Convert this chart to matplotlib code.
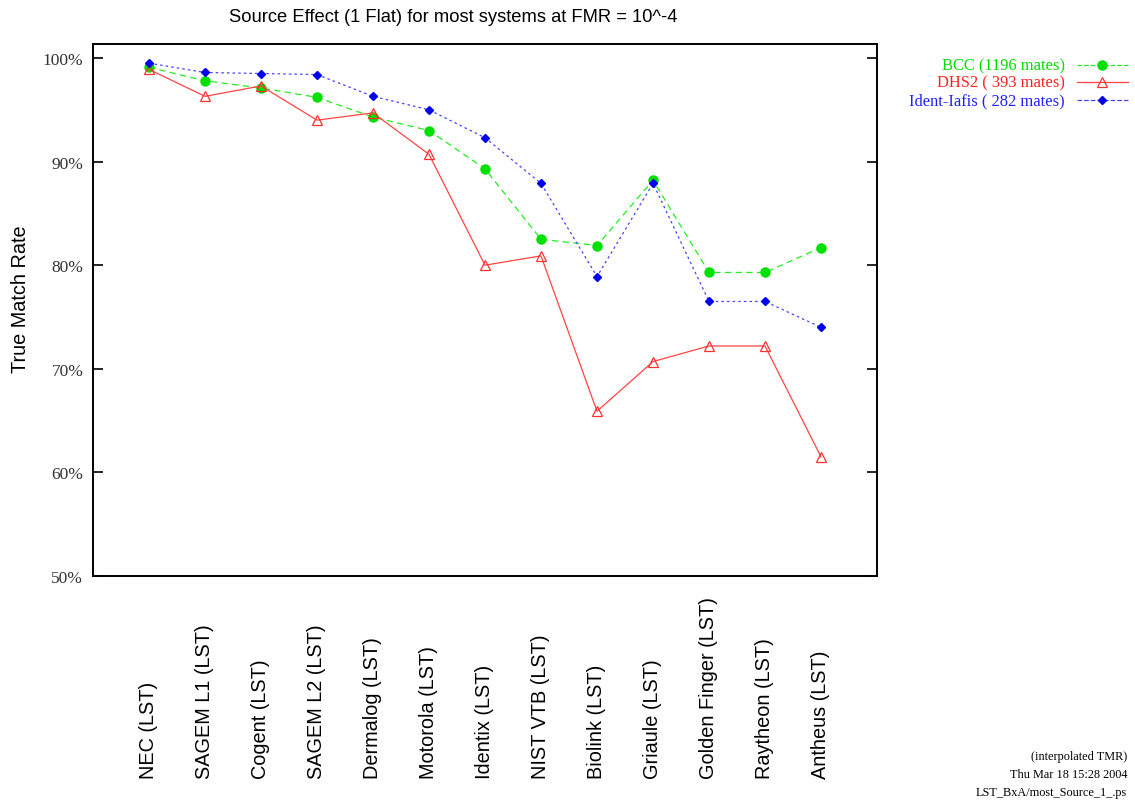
#!/usr/bin/env python3
"""
Source Effect (1 Flat) chart - TMR per system at FMR = 10^-4
"""

import matplotlib
matplotlib.use('agg')
import matplotlib.pyplot as plt
import matplotlib.transforms as mtransforms

# system names (x axis)
systems = ['NEC (LST)', 'SAGEM L1 (LST)', 'Cogent (LST)', 'SAGEM L2 (LST)',
           'Dermalog (LST)', 'Motorola (LST)', 'Identix (LST)', 'NIST VTB (LST)',
           'Biolink (LST)', 'Griaule (LST)', 'Golden Finger (LST)',
           'Raytheon (LST)', 'Antheus (LST)']

# true match rates in percent
bcc_tmr = [99.1, 97.8, 97.1, 96.2, 94.3, 93.0, 89.3, 82.5, 81.9, 88.2, 79.3, 79.3, 81.7]
dhs2_tmr = [98.9, 96.3, 97.3, 94.0, 94.7, 90.7, 80.0, 80.9, 65.9, 70.7, 72.2, 72.2, 61.5]
iafis_tmr = [99.5, 98.6, 98.5, 98.4, 96.3, 95.0, 92.3, 87.9, 78.9, 87.9, 76.5, 76.5, 74.0]

series_labels = ['BCC (1196 mates)', 'DHS2 ( 393 mates)', 'Ident-Iafis ( 282 mates)']

y_ticks = [50, 60, 70, 80, 90, 100]
y_tick_labels = ['50%', '60%', '70%', '80%', '90%', '100%']

footer_lines = ['(interpolated TMR)', 'Thu Mar 18 15:28 2004', 'LST_BxA/most_Source_1_.ps']

SANS = 'Liberation Sans'
SERIF = 'Liberation Serif'


def plot_source_effect():
    fig = plt.figure(figsize=(11.35, 8.03), dpi=100)
    ax = fig.add_axes([93 / 1135, 1 - 577 / 803, 784 / 1135, 532 / 803])

    x = list(range(1, len(systems) + 1))

    # 三条曲线
    l1, = ax.plot(x, bcc_tmr, color='#22ee22', linestyle=(0, (5, 3.5)), linewidth=0.9,
                  marker='o', markersize=6.5, markerfacecolor='#00e000',
                  markeredgecolor='#00e000')
    l2, = ax.plot(x, dhs2_tmr, color='#ff4444', linestyle='-', linewidth=0.9,
                  marker='^', markersize=7, markerfacecolor='none',
                  markeredgecolor='#ff3030', markeredgewidth=0.9)
    l3, = ax.plot(x, iafis_tmr, color='#4444ff', linestyle=(0, (2, 2.5)), linewidth=0.9,
                  marker='D', markersize=4.5, markerfacecolor='#0000ee',
                  markeredgecolor='#0000ee')

    ax.set_xlim(0, 14)
    ax.set_ylim(50, 101.35)

    ax.set_yticks(y_ticks)
    ax.set_yticklabels(y_tick_labels, family=SERIF, fontsize=12.5, color='#333333')
    ax.tick_params(axis='y', direction='in', length=7, width=1.2, left=True, right=True, pad=7)
    ax.set_xticks([])

    for s in ax.spines.values():
        s.set_linewidth(1.4)

    # x 轴标签（竖排）
    trans = mtransforms.blended_transform_factory(ax.transData, fig.transFigure)
    for xi, name in zip(x, systems):
        ax.text(xi, 1 - 779 / 803, name, rotation=90, ha='center', va='bottom',
                fontsize=14.3, family=SANS, transform=trans, clip_on=False)

    fig.text(20 / 1135, 1 - 299 / 803, 'True Match Rate', rotation=90, ha='center',
             va='center', fontsize=14.3, family=SANS)
    fig.text(453 / 1135, 1 - 18 / 803, 'Source Effect (1 Flat) for most systems at FMR = 10^-4',
             ha='center', va='center', fontsize=13.2, family=SANS)

    # 图例
    leg_colors = ['#00dd00', '#ff2020', '#2020ff']
    leg_y = [66, 83, 101]
    for lab, col, yy, line in zip(series_labels, leg_colors, leg_y, [l1, l2, l3]):
        fy = 1 - yy / 803
        fig.text(1065 / 1135, fy, lab, ha='right', va='center', color=col,
                 fontsize=11.9, family=SERIF)
        fig.add_artist(plt.Line2D([1077 / 1135, 1128 / 1135], [fy, fy],
                                  color=line.get_color(), linestyle=line.get_linestyle(),
                                  linewidth=0.9, transform=fig.transFigure))
        fig.add_artist(plt.Line2D([1102 / 1135], [fy], marker=line.get_marker(),
                                  markersize=line.get_markersize(),
                                  markerfacecolor=line.get_markerfacecolor(),
                                  markeredgecolor=line.get_markeredgecolor(),
                                  markeredgewidth=line.get_markeredgewidth(),
                                  linestyle='none', transform=fig.transFigure))

    # 页脚
    for i, t in enumerate(footer_lines):
        fig.text(1127 / 1135, 1 - (757 + 18 * i) / 803, t, ha='right', va='center',
                 fontsize=8.8, family=SERIF)

    plt.savefig('out.png', dpi=100)


def main():
    plot_source_effect()


if __name__ == "__main__":
    main()
